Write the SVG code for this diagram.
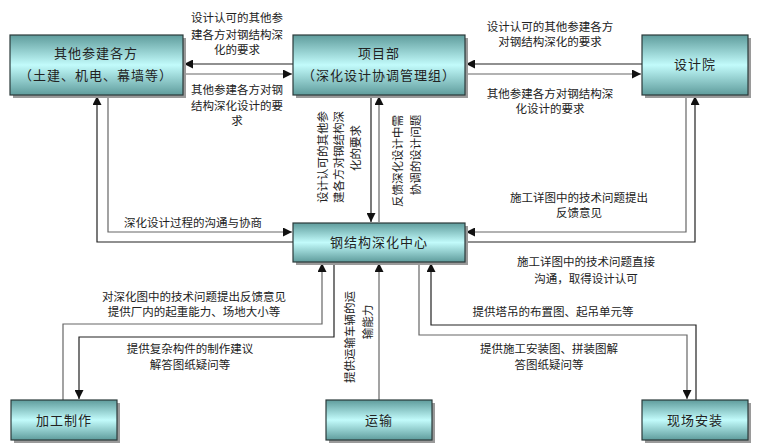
<svg xmlns="http://www.w3.org/2000/svg" width="757" height="445" viewBox="0 0 757 445">
<style>
text{font-family:"Noto Sans CJK SC","Liberation Sans",sans-serif;fill:#222}
.l{font-size:11.5px;text-anchor:middle}
.b{font-size:13px;text-anchor:middle;letter-spacing:1px}
.box{fill:url(#g);stroke:#2b3a3a;stroke-width:1.2}
.sh{fill:#9a9a9a}
.k{fill:none;stroke:#222;stroke-width:1.2}
.gy{fill:none;stroke:#666;stroke-width:1.2}
</style>
<defs>
<linearGradient id="g" x1="0" y1="0" x2="0" y2="1">
<stop offset="0" stop-color="#5f9c9c"/><stop offset="0.5" stop-color="#c2fbfb"/><stop offset="1" stop-color="#5f9c9c"/>
</linearGradient>
<marker id="a" viewBox="0 0 10 10" refX="10" refY="5" markerWidth="9" markerHeight="9" markerUnits="userSpaceOnUse" orient="auto">
<path d="M0,0L10,5L0,10z" fill="#111"/></marker>
</defs>
<g id="connectors">
<path class="k" d="M293,64H184" marker-end="url(#a)"/>
<path class="gy" d="M184,74H292" marker-end="url(#a)"/>
<path class="k" d="M642,64H466" marker-end="url(#a)"/>
<path class="gy" d="M466,74H641" marker-end="url(#a)"/>
<path class="k" d="M371,95V222" marker-end="url(#a)"/>
<path class="gy" d="M379,222V96" marker-end="url(#a)"/>
<path class="k" d="M293,242H97V96" marker-end="url(#a)"/>
<path class="gy" d="M108,95V232H292" marker-end="url(#a)"/>
<path class="gy" d="M686,95V232H466" marker-end="url(#a)"/>
<path class="k" d="M465,242H695V96" marker-end="url(#a)"/>
<path class="gy" d="M63,400V324H322V263" marker-end="url(#a)"/>
<path class="k" d="M334,262V337H79V399" marker-end="url(#a)"/>
<path class="gy" d="M379,400V263" marker-end="url(#a)"/>
<path class="k" d="M696,400V325H431V263" marker-end="url(#a)"/>
<path class="gy" d="M419,262V335H687V399" marker-end="url(#a)"/>
</g>
<g id="n1"><rect class="sh" x="13" y="38" width="173" height="60"/><rect class="box" x="10" y="35" width="173" height="60"/>
<text class="b" x="96" y="58">其他参建各方</text><text class="b" x="96" y="80">（土建、机电、幕墙等）</text></g>
<g id="n2"><rect class="sh" x="296" y="38" width="172" height="60"/><rect class="box" x="293" y="35" width="172" height="60"/>
<text class="b" x="379" y="58">项目部</text><text class="b" x="379" y="80">（深化设计协调管理组）</text></g>
<g id="n3"><rect class="sh" x="645" y="38" width="106" height="60"/><rect class="box" x="642" y="35" width="106" height="60"/>
<text class="b" x="695" y="69">设计院</text></g>
<g id="n4"><rect class="sh" x="296" y="226" width="172" height="39"/><rect class="box" x="293" y="223" width="172" height="39"/>
<text class="b" x="379" y="247">钢结构深化中心</text></g>
<g id="n5"><rect class="sh" x="14" y="403" width="106" height="40"/><rect class="box" x="11" y="400" width="106" height="40"/>
<text class="b" x="64" y="425">加工制作</text></g>
<g id="n6"><rect class="sh" x="329" y="403" width="106" height="40"/><rect class="box" x="326" y="400" width="106" height="40"/>
<text class="b" x="379" y="425">运输</text></g>
<g id="n7"><rect class="sh" x="645" y="403" width="106" height="40"/><rect class="box" x="642" y="400" width="106" height="40"/>
<text class="b" x="695" y="425">现场安装</text></g>
<g id="labels">
<text class="l" x="237" y="22">设计认可的其他参</text><text class="l" x="237" y="39">建各方对钢结构深</text><text class="l" x="237" y="54">化的要求</text>
<text class="l" x="237" y="94">其他参建各方对钢</text><text class="l" x="237" y="110">结构深化设计的要</text><text class="l" x="237" y="125">求</text>
<text class="l" x="550" y="31">设计认可的其他参建各方</text><text class="l" x="550" y="46">对钢结构深化的要求</text>
<text class="l" x="550" y="98">其他参建各方对钢结构深</text><text class="l" x="550" y="113">化设计的要求</text>
<text class="l" transform="translate(327,157) rotate(-90)">设计认可的其他参</text>
<text class="l" transform="translate(343,157) rotate(-90)">建各方对钢结构深</text>
<text class="l" transform="translate(360,148) rotate(-90)">化的要求</text>
<text class="l" transform="translate(402,161) rotate(-90)">反馈深化设计中需</text>
<text class="l" transform="translate(420,155) rotate(-90)">协调的设计问题</text>
<text class="l" transform="translate(354,337) rotate(-90)">提供运输车辆的运</text>
<text class="l" transform="translate(372,322) rotate(-90)">输能力</text>
<text class="l" x="193" y="227">深化设计过程的沟通与协商</text>
<text class="l" x="579" y="202">施工详图中的技术问题提出</text><text class="l" x="579" y="217">反馈意见</text>
<text class="l" x="586" y="266">施工详图中的技术问题直接</text><text class="l" x="586" y="283">沟通，取得设计认可</text>
<text class="l" x="194" y="301">对深化图中的技术问题提出反馈意见</text><text class="l" x="194" y="316">提供厂内的起重能力、场地大小等</text>
<text class="l" x="190" y="353">提供复杂构件的制作建议</text><text class="l" x="190" y="369">解答图纸疑问等</text>
<text class="l" x="553" y="316">提供塔吊的布置图、起吊单元等</text>
<text class="l" x="549" y="353">提供施工安装图、拼装图解</text><text class="l" x="549" y="369">答图纸疑问等</text>
</g>
</svg>
